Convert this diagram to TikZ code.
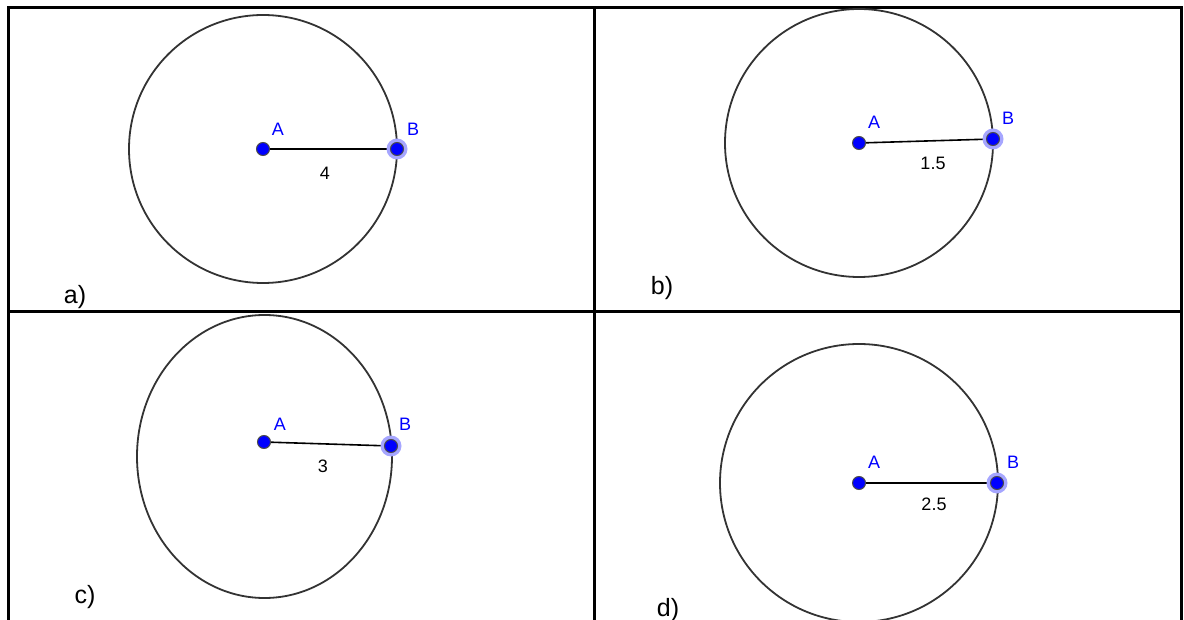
\documentclass[tikz,border=0pt]{standalone}
\usepackage{fontspec}
\setmainfont{Liberation Sans}
\begin{document}
\begin{tikzpicture}[x=0.5pt,y=-0.5pt,
  frame/.style={line width=1.5pt,black},
  circ/.style={line width=0.9pt,draw=black!80},
  seg/.style={line width=0.8pt,black},
  ptA/.style={circle,fill=blue,draw=black!70,line width=0.5pt,inner sep=0pt,minimum size=6.5pt},
  halo/.style={circle,fill=blue!35,draw=none,inner sep=0pt,minimum size=10.5pt},
  ptlbl/.style={text=blue,font=\fontsize{9}{10}\selectfont,inner sep=0pt},
  numlbl/.style={text=black,font=\fontsize{9}{10}\selectfont,inner sep=0pt},
  panel/.style={font=\fontsize{12.5}{14}\selectfont,inner sep=0pt}]
\useasboundingbox (0,0) rectangle (1184,620);
\begin{scope}
\clip (0,0) rectangle (1184,620);
% table grid
\draw[frame] (8,700) -- (8,8) -- (1181,8) -- (1181,700);
\draw[frame] (594,8) -- (594,700);
\draw[frame] (8,312) -- (1181,312);
% panel a
\coordinate (aA) at (263,149);
\coordinate (aB) at (397,149);
\draw[circ] (aA) circle[radius=134];
\draw[seg] (aA) -- (aB);
\node[halo] at (aB) {};
\node[ptA] (aAn) at (aA) {};
\node[ptA] (aBn) at (aB) {};
\node[ptlbl] at (278,129) {A};
\node[ptlbl] at (413,129) {B};
\node[numlbl] at (325,173) {4};
\node[panel] at (75,297) {a)};
% panel b
\coordinate (bA) at (859,143);
\coordinate (bB) at (993,139);
\draw[circ] (bA) circle[radius=134];
\draw[seg] (bA) -- (bB);
\node[halo] at (bB) {};
\node[ptA] (bAn) at (bA) {};
\node[ptA] (bBn) at (bB) {};
\node[ptlbl] at (874,122) {A};
\node[ptlbl] at (1008,118) {B};
\node[numlbl] at (933,163) {1.5};
\node[panel] at (662,288) {b)};
% panel c
\coordinate (cA) at (264,442);
\coordinate (cB) at (391,446);
\draw[circ] (264.5,456.5) ellipse[x radius=127.5,y radius=141.5];
\draw[seg] (cA) -- (cB);
\node[halo] at (cB) {};
\node[ptA] (cAn) at (cA) {};
\node[ptA] (cBn) at (cB) {};
\node[ptlbl] at (280,424) {A};
\node[ptlbl] at (405,424) {B};
\node[numlbl] at (323,466) {3};
\node[panel] at (85,597) {c)};
% panel d
\coordinate (dA) at (859,483);
\coordinate (dB) at (997,483);
\draw[circ] (dA) circle[radius=139];
\draw[seg] (dA) -- (dB);
\node[halo] at (dB) {};
\node[ptA] (dAn) at (dA) {};
\node[ptA] (dBn) at (dB) {};
\node[ptlbl] at (874,462) {A};
\node[ptlbl] at (1013,462) {B};
\node[numlbl] at (934,504) {2.5};
\node[panel] at (668,610) {d)};
\end{scope}
\end{tikzpicture}
\end{document}
